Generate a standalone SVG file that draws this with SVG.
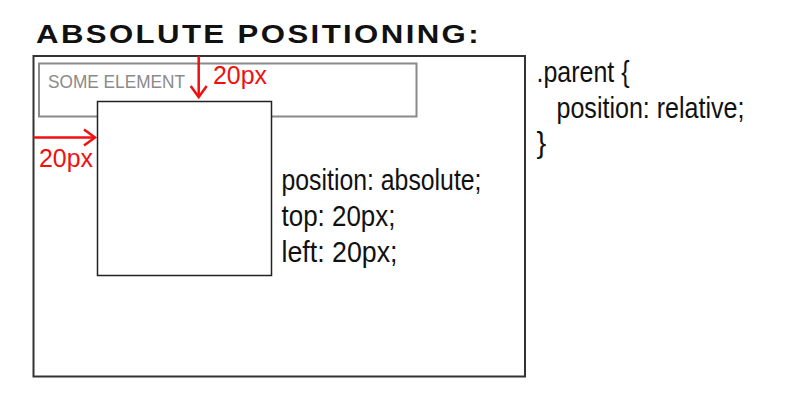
<svg xmlns="http://www.w3.org/2000/svg" width="790" height="412" viewBox="0 0 790 412">
  <style>
    .txt { font-family: "Liberation Sans", Arial, sans-serif; fill: #111; }
    .code { font-size: 29px; }
    .red { font-family: "Liberation Sans", Arial, sans-serif; fill: #f01010; font-size: 25.5px; }
    .arrow { stroke: #f01010; stroke-width: 2.5; fill: none; }
  </style>
  <defs>
    <marker id="chev" markerUnits="userSpaceOnUse" markerWidth="16" markerHeight="20" viewBox="-13 -10 16 20" refX="0" refY="0" orient="auto">
      <path d="M-11,-8 L0,0 L-11,8" fill="none" stroke="#f01010" stroke-width="2.5"/>
    </marker>
  </defs>
  <rect width="790" height="412" fill="#fff"/>

  <g id="title">
    <text class="txt" x="36" y="42.5" font-size="26" font-weight="bold" letter-spacing="2" textLength="445" lengthAdjust="spacingAndGlyphs">ABSOLUTE POSITIONING:</text>
  </g>

  <g id="parent">
    <rect x="33.5" y="56" width="491.5" height="320.5" fill="#fff" stroke="#333" stroke-width="2"/>
  </g>

  <g id="some-element">
    <rect x="39" y="63.5" width="377.5" height="53" fill="none" stroke="#8a8a8a" stroke-width="2"/>
    <text x="48" y="88" font-family="Liberation Sans, Arial, sans-serif" font-size="18" fill="#8a8a8a" textLength="137" lengthAdjust="spacingAndGlyphs">SOME ELEMENT</text>
  </g>

  <g id="absolute-box">
    <rect x="97.5" y="101.5" width="174" height="174" fill="#fff" stroke="#222" stroke-width="1.5"/>
  </g>

  <g id="connectors">
    <line class="arrow" x1="33.5" y1="137.5" x2="95" y2="137.5" marker-end="url(#chev)"/>
    <line class="arrow" x1="198.7" y1="56" x2="198.7" y2="97" marker-end="url(#chev)"/>
  </g>

  <g id="offset-labels">
    <text class="red" x="213" y="84" textLength="54" lengthAdjust="spacingAndGlyphs">20px</text>
    <text class="red" x="39" y="167" textLength="54" lengthAdjust="spacingAndGlyphs">20px</text>
  </g>

  <g id="child-css">
    <text class="txt code" x="281.5" y="189.5" textLength="200" lengthAdjust="spacingAndGlyphs">position: absolute;</text>
    <text class="txt code" x="281.5" y="226" textLength="114" lengthAdjust="spacingAndGlyphs">top: 20px;</text>
    <text class="txt code" x="281.5" y="262" textLength="116" lengthAdjust="spacingAndGlyphs">left: 20px;</text>
  </g>

  <g id="parent-css">
    <text class="txt code" x="536.5" y="82" textLength="93" lengthAdjust="spacingAndGlyphs">.parent {</text>
    <text class="txt code" x="556.5" y="118" textLength="188" lengthAdjust="spacingAndGlyphs">position: relative;</text>
    <text class="txt code" x="536.5" y="153">}</text>
  </g>
</svg>
